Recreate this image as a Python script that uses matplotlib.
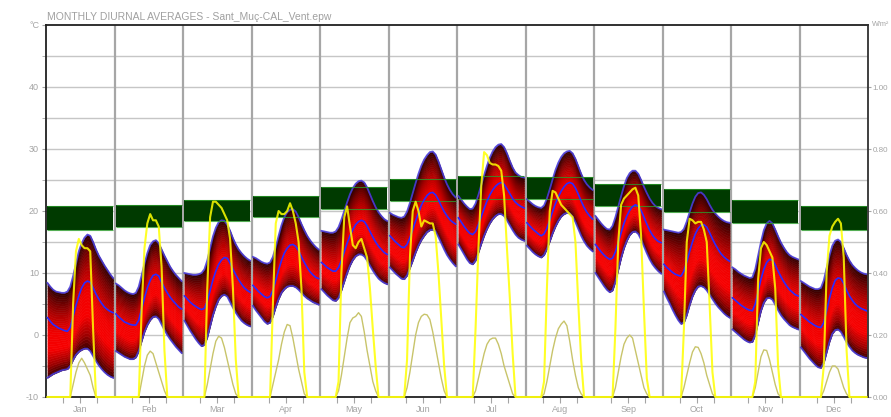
import numpy as np
import matplotlib
matplotlib.use("Agg")
import matplotlib.pyplot as plt
from matplotlib.colors import LinearSegmentedColormap

months = ["Jan", "Feb", "Mar", "Apr", "May", "Jun", "Jul", "Aug", "Sep", "Oct", "Nov", "Dec"]

# comfort band (deg C)
comfort_lo = [17.0, 17.4, 18.4, 19.0, 20.3, 21.6, 22.0, 22.0, 20.8, 19.9, 18.1, 17.0]
comfort_hi = [20.8, 21.0, 21.8, 22.5, 23.9, 25.1, 25.6, 25.5, 24.3, 23.5, 21.7, 20.8]

# hourly averages per month (hour 0..23), deg C
temp_max = [
    [8.4, 7.8, 7.3, 7.0, 6.9, 6.8, 6.8, 7.0, 7.8, 9.5, 11.5, 13.5, 14.8, 15.7, 16.2, 16.0, 15.0, 13.8, 12.8, 12.0, 11.2, 10.5, 9.8, 9.2],
    [8.3, 8.0, 7.6, 7.2, 6.9, 6.7, 6.6, 6.8, 7.8, 9.6, 11.5, 13.2, 14.5, 15.1, 15.3, 14.8, 13.8, 12.8, 11.9, 11.0, 10.3, 9.7, 9.2, 8.7],
    [10.0, 9.9, 9.8, 9.7, 9.7, 9.8, 10.0, 10.6, 12.0, 14.0, 15.9, 17.3, 18.2, 18.5, 18.4, 17.8, 16.8, 15.6, 14.6, 13.8, 13.2, 12.7, 12.3, 12.0],
    [12.6, 12.4, 12.1, 11.8, 11.6, 11.5, 11.7, 12.6, 14.2, 16.0, 17.7, 19.0, 19.8, 20.2, 20.3, 19.9, 19.0, 17.9, 16.9, 16.0, 15.3, 14.7, 14.2, 13.8],
    [16.8, 16.7, 16.6, 16.5, 16.5, 16.7, 17.4, 18.6, 20.0, 21.4, 22.7, 23.7, 24.4, 24.8, 24.9, 24.6, 23.8, 22.7, 21.6, 20.6, 19.8, 19.2, 18.7, 18.4],
    [19.7, 19.4, 19.2, 19.0, 18.9, 19.1, 19.9, 21.3, 22.9, 24.5, 26.0, 27.3, 28.3, 29.0, 29.5, 29.6, 29.1, 28.0, 26.7, 25.4, 24.3, 23.4, 22.7, 22.2],
    [22.4, 21.8, 21.2, 20.7, 20.3, 20.4, 21.2, 22.6, 24.2, 25.8, 27.3, 28.6, 29.6, 30.3, 30.7, 30.8, 30.3, 29.3, 28.1, 27.0, 26.2, 25.8, 25.5, 25.4],
    [21.9, 21.5, 21.1, 20.8, 20.6, 20.5, 20.9, 22.0, 23.5, 25.1, 26.6, 27.8, 28.7, 29.3, 29.6, 29.7, 29.3, 28.4, 27.2, 26.0, 25.0, 24.3, 23.8, 23.4],
    [19.2, 18.6, 18.0, 17.5, 17.1, 17.0, 17.6, 19.0, 20.7, 22.4, 24.0, 25.3, 26.1, 26.5, 26.5, 26.0, 25.0, 23.9, 22.9, 22.0, 21.3, 20.8, 20.5, 20.3],
    [17.0, 16.9, 16.8, 16.7, 16.6, 16.5, 16.6, 17.1, 18.3, 19.8, 21.2, 22.3, 22.9, 23.0, 22.6, 21.9, 21.0, 20.2, 19.6, 19.1, 18.7, 18.4, 18.2, 18.1],
    [10.9, 10.6, 10.2, 9.9, 9.6, 9.4, 9.2, 9.3, 10.6, 12.8, 15.0, 16.9, 18.0, 18.4, 18.0, 17.0, 15.9, 14.9, 14.1, 13.4, 12.9, 12.6, 12.4, 12.2],
    [8.7, 8.4, 8.1, 7.8, 7.6, 7.4, 7.4, 7.6, 8.8, 10.8, 12.8, 14.4, 15.2, 15.4, 15.0, 14.0, 12.9, 12.0, 11.3, 10.8, 10.4, 10.1, 9.9, 9.8],
]

temp_mean = [
    [2.8, 2.2, 1.7, 1.4, 1.1, 0.9, 0.7, 0.6, 1.2, 3.0, 4.8, 6.3, 7.6, 8.4, 8.7, 8.5, 7.6, 6.6, 5.8, 5.1, 4.5, 4.1, 3.8, 3.6],
    [3.4, 2.9, 2.5, 2.1, 1.9, 1.7, 1.6, 1.6, 2.4, 4.2, 6.0, 7.6, 8.8, 9.6, 9.8, 9.5, 8.5, 7.6, 6.8, 6.1, 5.5, 5.0, 4.5, 4.2],
    [6.3, 5.8, 5.3, 4.9, 4.6, 4.3, 4.1, 4.3, 5.4, 7.2, 8.9, 10.3, 11.4, 12.1, 12.5, 12.4, 11.6, 10.6, 9.7, 8.9, 8.2, 7.6, 7.2, 6.9],
    [8.0, 7.5, 7.0, 6.6, 6.2, 6.0, 6.2, 7.2, 8.8, 10.5, 12.0, 13.2, 14.0, 14.5, 14.6, 14.3, 13.6, 12.6, 11.7, 10.9, 10.2, 9.7, 9.3, 9.1],
    [11.7, 11.3, 10.9, 10.6, 10.3, 10.3, 10.9, 12.0, 13.4, 14.8, 16.0, 17.0, 17.8, 18.3, 18.5, 18.3, 17.6, 16.7, 15.8, 15.0, 14.3, 13.8, 13.3, 13.0],
    [16.0, 15.5, 15.0, 14.6, 14.2, 14.1, 14.6, 15.7, 17.0, 18.4, 19.7, 20.9, 21.8, 22.5, 22.9, 23.0, 22.6, 21.8, 20.8, 19.9, 19.2, 18.6, 18.2, 17.9],
    [18.9, 18.2, 17.5, 16.9, 16.4, 16.2, 16.7, 17.8, 19.1, 20.4, 21.6, 22.6, 23.4, 24.0, 24.4, 24.6, 24.3, 23.6, 22.8, 22.0, 21.4, 21.0, 20.7, 20.5],
    [18.1, 17.6, 17.1, 16.7, 16.3, 16.0, 16.3, 17.2, 18.5, 19.9, 21.2, 22.3, 23.2, 23.9, 24.4, 24.6, 24.4, 23.7, 22.7, 21.6, 20.6, 19.8, 19.2, 18.7],
    [14.6, 14.0, 13.4, 12.9, 12.5, 12.2, 12.4, 13.4, 14.9, 16.5, 18.0, 19.2, 20.1, 20.7, 21.0, 20.8, 20.1, 19.0, 17.9, 16.9, 16.1, 15.5, 15.1, 14.9],
    [11.4, 10.9, 10.5, 10.1, 9.8, 9.6, 9.5, 10.3, 11.8, 13.5, 15.0, 16.3, 17.2, 17.7, 17.8, 17.4, 16.5, 15.5, 14.6, 13.8, 13.1, 12.6, 12.2, 11.9],
    [6.0, 5.6, 5.2, 4.8, 4.5, 4.2, 4.0, 3.9, 5.0, 7.0, 9.0, 10.6, 11.7, 12.2, 12.1, 11.3, 10.3, 9.4, 8.6, 7.9, 7.3, 6.9, 6.5, 6.3],
    [3.3, 2.9, 2.5, 2.1, 1.8, 1.5, 1.3, 1.2, 2.0, 3.9, 5.9, 7.6, 8.8, 9.2, 9.1, 8.3, 7.2, 6.3, 5.6, 5.0, 4.6, 4.3, 4.1, 3.9],
]

temp_min = [
    [-6.9, -6.6, -6.3, -6.1, -5.9, -5.7, -5.6, -5.5, -5.0, -4.0, -3.2, -2.7, -2.4, -2.2, -2.2, -2.6, -3.4, -4.2, -4.9, -5.5, -6.0, -6.4, -6.7, -6.9],
    [-2.6, -2.9, -3.2, -3.5, -3.7, -3.9, -3.9, -3.6, -2.6, -1.0, 0.5, 1.6, 2.4, 2.9, 3.0, 2.6, 1.7, 0.8, 0.0, -0.7, -1.3, -1.9, -2.4, -2.9],
    [2.3, 1.5, 0.7, 0.0, -0.7, -1.3, -1.8, -1.6, -0.4, 1.4, 3.2, 4.6, 5.7, 6.3, 6.5, 6.2, 5.3, 4.4, 3.6, 2.9, 2.3, 1.9, 1.6, 1.4],
    [4.7, 4.0, 3.4, 2.8, 2.2, 1.8, 2.0, 3.0, 4.5, 5.8, 6.8, 7.4, 7.8, 7.9, 7.9, 7.7, 7.3, 6.8, 6.3, 5.9, 5.6, 5.3, 5.1, 4.9],
    [7.4, 6.9, 6.4, 6.0, 5.6, 5.5, 6.0, 7.2, 8.6, 10.0, 11.2, 12.1, 12.7, 13.0, 13.0, 12.7, 12.0, 11.2, 10.4, 9.7, 9.1, 8.7, 8.4, 8.2],
    [10.9, 10.4, 9.9, 9.5, 9.1, 9.0, 9.6, 10.8, 12.0, 13.3, 14.4, 15.3, 16.0, 16.6, 16.9, 17.0, 16.7, 15.8, 14.8, 13.8, 12.9, 12.2, 11.6, 11.1],
    [14.6, 13.8, 13.0, 12.2, 11.6, 11.4, 12.0, 13.3, 14.7, 16.0, 17.1, 18.0, 18.7, 19.2, 19.5, 19.5, 19.2, 18.5, 17.7, 16.9, 16.2, 15.7, 15.4, 15.2],
    [14.4, 13.9, 13.4, 13.0, 12.7, 12.5, 12.9, 13.9, 15.1, 16.4, 17.5, 18.4, 19.1, 19.5, 19.7, 19.6, 19.1, 18.2, 17.1, 16.0, 15.1, 14.4, 13.9, 13.5],
    [10.0, 9.3, 8.6, 7.9, 7.3, 6.9, 7.2, 8.6, 10.5, 12.4, 14.0, 15.2, 16.1, 16.6, 16.7, 16.3, 15.4, 14.3, 13.2, 12.2, 11.4, 10.8, 10.3, 9.9],
    [7.0, 6.0, 5.1, 4.1, 3.2, 2.4, 1.8, 2.0, 3.2, 4.8, 6.2, 7.2, 7.8, 7.9, 7.7, 7.2, 6.5, 5.8, 5.1, 4.5, 4.0, 3.5, 3.1, 2.8],
    [0.9, 0.5, 0.1, -0.3, -0.7, -1.0, -1.2, -1.1, 0.0, 2.0, 3.9, 5.2, 5.9, 6.0, 5.7, 4.9, 4.0, 3.2, 2.6, 2.1, 1.6, 1.3, 1.1, 0.9],
    [-2.0, -2.6, -3.2, -3.8, -4.3, -4.8, -5.2, -5.3, -4.5, -2.8, -1.1, 0.2, 0.8, 0.9, 0.5, -0.3, -1.2, -1.9, -2.5, -2.9, -3.2, -3.4, -3.6, -3.7],
]

# solar radiation, right axis units
solar_direct = [
    [0, 0, 0, 0, 0, 0, 0, 0, 0.0, 0.30, 0.47, 0.51, 0.49, 0.48, 0.48, 0.47, 0.22, 0.0, 0, 0, 0, 0, 0, 0],
    [0, 0, 0, 0, 0, 0, 0, 0, 0.0, 0.28, 0.48, 0.56, 0.59, 0.57, 0.57, 0.55, 0.42, 0.15, 0.0, 0, 0, 0, 0, 0],
    [0, 0, 0, 0, 0, 0, 0, 0.0, 0.35, 0.58, 0.63, 0.63, 0.62, 0.61, 0.59, 0.57, 0.51, 0.35, 0.12, 0.0, 0, 0, 0, 0],
    [0, 0, 0, 0, 0, 0, 0.0, 0.30, 0.56, 0.60, 0.59, 0.59, 0.60, 0.625, 0.60, 0.56, 0.50, 0.35, 0.08, 0.0, 0, 0, 0, 0],
    [0, 0, 0, 0, 0, 0.0, 0.05, 0.40, 0.58, 0.615, 0.55, 0.49, 0.48, 0.50, 0.51, 0.48, 0.45, 0.35, 0.22, 0.10, 0.0, 0, 0, 0],
    [0, 0, 0, 0, 0, 0.0, 0.12, 0.45, 0.60, 0.63, 0.60, 0.55, 0.57, 0.565, 0.56, 0.56, 0.52, 0.40, 0.25, 0.10, 0.0, 0, 0, 0],
    [0, 0, 0, 0, 0, 0.0, 0.22, 0.48, 0.68, 0.79, 0.78, 0.755, 0.75, 0.75, 0.745, 0.73, 0.65, 0.48, 0.32, 0.14, 0.0, 0, 0, 0],
    [0, 0, 0, 0, 0, 0.0, 0.05, 0.35, 0.60, 0.665, 0.66, 0.64, 0.62, 0.61, 0.60, 0.59, 0.58, 0.50, 0.30, 0.12, 0.0, 0, 0, 0],
    [0, 0, 0, 0, 0, 0, 0.0, 0.22, 0.50, 0.62, 0.64, 0.65, 0.66, 0.67, 0.675, 0.65, 0.52, 0.28, 0.06, 0.0, 0, 0, 0, 0],
    [0, 0, 0, 0, 0, 0, 0.0, 0.22, 0.50, 0.575, 0.57, 0.56, 0.565, 0.565, 0.54, 0.50, 0.30, 0.08, 0.0, 0, 0, 0, 0, 0],
    [0, 0, 0, 0, 0, 0, 0, 0.0, 0.05, 0.38, 0.48, 0.50, 0.49, 0.47, 0.45, 0.35, 0.10, 0.0, 0, 0, 0, 0, 0, 0],
    [0, 0, 0, 0, 0, 0, 0, 0.0, 0.10, 0.40, 0.52, 0.55, 0.565, 0.575, 0.56, 0.45, 0.15, 0.0, 0, 0, 0, 0, 0, 0],
]

solar_diffuse = [
    [0, 0, 0, 0, 0, 0, 0, 0, 0, 0.04, 0.08, 0.11, 0.125, 0.11, 0.09, 0.07, 0.03, 0, 0, 0, 0, 0, 0, 0],
    [0, 0, 0, 0, 0, 0, 0, 0, 0, 0.05, 0.10, 0.135, 0.148, 0.14, 0.11, 0.08, 0.05, 0.02, 0, 0, 0, 0, 0, 0],
    [0, 0, 0, 0, 0, 0, 0, 0, 0.04, 0.09, 0.14, 0.18, 0.196, 0.19, 0.16, 0.12, 0.08, 0.04, 0.01, 0, 0, 0, 0, 0],
    [0, 0, 0, 0, 0, 0, 0, 0.04, 0.08, 0.12, 0.17, 0.21, 0.234, 0.23, 0.19, 0.14, 0.09, 0.05, 0.01, 0, 0, 0, 0, 0],
    [0, 0, 0, 0, 0, 0, 0.02, 0.07, 0.13, 0.19, 0.24, 0.255, 0.26, 0.272, 0.26, 0.21, 0.15, 0.10, 0.05, 0.02, 0, 0, 0, 0],
    [0, 0, 0, 0, 0, 0, 0.03, 0.08, 0.14, 0.20, 0.24, 0.26, 0.267, 0.265, 0.25, 0.21, 0.16, 0.11, 0.06, 0.02, 0, 0, 0, 0],
    [0, 0, 0, 0, 0, 0, 0.02, 0.06, 0.10, 0.14, 0.17, 0.185, 0.19, 0.19, 0.17, 0.14, 0.10, 0.07, 0.04, 0.01, 0, 0, 0, 0],
    [0, 0, 0, 0, 0, 0, 0.01, 0.05, 0.10, 0.15, 0.19, 0.22, 0.235, 0.245, 0.23, 0.18, 0.12, 0.07, 0.03, 0.01, 0, 0, 0, 0],
    [0, 0, 0, 0, 0, 0, 0, 0.03, 0.08, 0.13, 0.17, 0.19, 0.20, 0.19, 0.15, 0.11, 0.07, 0.03, 0.01, 0, 0, 0, 0, 0],
    [0, 0, 0, 0, 0, 0, 0, 0.03, 0.07, 0.11, 0.145, 0.162, 0.16, 0.14, 0.11, 0.07, 0.04, 0.01, 0, 0, 0, 0, 0, 0],
    [0, 0, 0, 0, 0, 0, 0, 0, 0.03, 0.08, 0.13, 0.152, 0.15, 0.12, 0.08, 0.04, 0.01, 0, 0, 0, 0, 0, 0, 0],
    [0, 0, 0, 0, 0, 0, 0, 0, 0.02, 0.05, 0.08, 0.10, 0.10, 0.09, 0.06, 0.03, 0.01, 0, 0, 0, 0, 0, 0, 0],
]

plt.rcParams['font.family'] = ['Liberation Sans', 'DejaVu Sans']
label_grey = '#a4a4a4'

fig = plt.figure(figsize=(8.91, 4.17), dpi=100)
ax = fig.add_axes([46 / 891, 20 / 417, 822 / 891, 372 / 417])
ax.set_xlim(0, 288)
ax.set_ylim(-10, 50)

# grid
for yv in range(-5, 50, 5):
    ax.axhline(yv, color='#c6c6c6', lw=1.0, zorder=1)
for m in range(1, 12):
    ax.axvline(m * 24, color='#a6a6a6', lw=1.6, zorder=1)

band_cmap = LinearSegmentedColormap.from_list('band', [
    (0.0, '#380000'), (0.12, '#9a0000'), (0.3, '#f80000'), (0.5, '#f00000'),
    (0.7, '#b40000'), (0.88, '#6a0000'), (1.0, '#300000')])

hours = np.arange(24)
n_strips = 36
for m in range(12):
    x = m * 24 + 0.5 + hours
    lo = np.array(temp_min[m])
    hi = np.array(temp_max[m])
    ax.fill_between([m * 24 + 0.5, m * 24 + 23.5], comfort_lo[m], comfort_hi[m],
                    color='#003a00', lw=0, zorder=2)
    for k in range(n_strips):
        c = band_cmap((k + 0.5) / n_strips)
        ax.fill_between(x, lo + (hi - lo) * k / n_strips, lo + (hi - lo) * (k + 1) / n_strips,
                        facecolor=c, edgecolor=c, lw=0.4, zorder=3)
    ax.plot(x, hi, color='#4a3cd8', lw=1.3, alpha=0.9, zorder=4)
    ax.plot(x, lo, color='#4a3cd8', lw=1.3, alpha=0.9, zorder=4)
    ax.hlines([comfort_lo[m], comfort_hi[m]], m * 24 + 0.5, m * 24 + 23.5,
              color='#2a9a2a', lw=0.8, alpha=0.8, zorder=4.5)
    ax.plot(x, temp_mean[m], color='#2a2aff', lw=1.2, zorder=5)

for side in ['left', 'top', 'bottom']:
    ax.spines[side].set_color('#202020')
    ax.spines[side].set_linewidth(1.3)
ax.spines['right'].set_visible(False)

ax.set_yticks([-10, 0, 10, 20, 30, 40, 50])
ax.set_yticklabels(['-10', '0', '10', '20', '30', '40', '°C'])
ax.set_yticks(range(-5, 50, 10), minor=True)
ax.tick_params(axis='y', which='both', colors=label_grey, labelsize=6.5, length=3, pad=2)

xt = [m * 24 + h for m in range(12) for h in (6, 12, 18)]
xl = []
for m in range(12):
    xl += ['', months[m], '']
ax.set_xticks(xt)
ax.set_xticklabels(xl)
ax.tick_params(axis='x', colors=label_grey, labelsize=6.5, length=4, pad=2)

ax2 = ax.twinx()
ax2.set_ylim(0, 1.2)
x_all = np.concatenate([m * 24 + 0.5 + hours for m in range(12)])
ax2.plot(x_all, np.concatenate(solar_diffuse), color='#c8c46a', lw=1.0, clip_on=False, zorder=6)
ax2.plot(x_all, np.concatenate(solar_direct), color='#ffff00', lw=1.5, alpha=0.85,
         clip_on=False, zorder=7)
for side in ['left', 'top', 'bottom']:
    ax2.spines[side].set_visible(False)
ax2.spines['right'].set_color('#303030')
ax2.spines['right'].set_linewidth(1.3)
ax2.set_yticks([0, 0.2, 0.4, 0.6, 0.8, 1.0])
ax2.set_yticklabels(['0.00', '0.20', '0.40', '0.60', '0.80', '1.00'])
ax2.tick_params(axis='y', colors=label_grey, labelsize=5.8, length=2, pad=1.5)
fig.text(872 / 891, 1 - 24 / 417, 'W/m²', color=label_grey, fontsize=5.2,
         ha='left', va='center')

fig.text(47 / 891, 1 - 17 / 417, 'MONTHLY DIURNAL AVERAGES - Sant_Muç-CAL_Vent.epw',
         color='#a0a0a0', fontsize=7.5, va='center', ha='left')

fig.savefig('out.png', dpi=100)
